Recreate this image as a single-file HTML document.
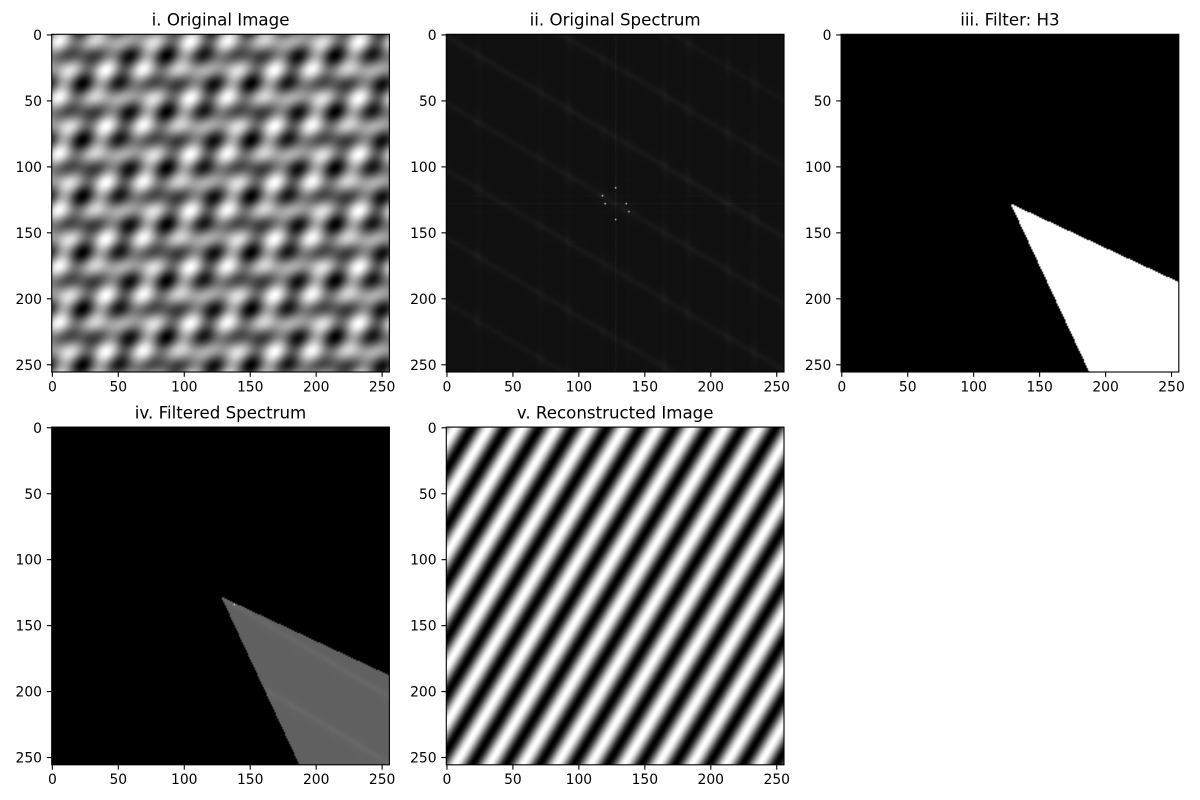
<!DOCTYPE html>
<html lang="en">
<head>
<meta charset="utf-8">
<title>Fourier filtering panels</title>
<style>
  html, body { margin: 0; padding: 0; background: #fff; }
  #figure { position: relative; width: 1200px; height: 800px; overflow: hidden; background: #fff; font-family: "DejaVu Sans", "Liberation Sans", sans-serif; }
  canvas { position: absolute; display: block; }
  svg { position: absolute; left: 0; top: 0; }
</style>
</head>
<body>
<div id="figure">
  <canvas id="c0" width="256" height="256"></canvas>
  <canvas id="c1" width="256" height="256"></canvas>
  <canvas id="c2" width="256" height="256"></canvas>
  <canvas id="c3" width="256" height="256"></canvas>
  <canvas id="c4" width="256" height="256"></canvas>
  <svg id="overlay" width="1200" height="800" xmlns="http://www.w3.org/2000/svg"></svg>
</div>
<script>
// ---- chart data ----
const panelTitles = ["i. Original Image", "ii. Original Spectrum", "iii. Filter: H3", "iv. Filtered Spectrum", "v. Reconstructed Image"];
const panelNames = ["original-image", "original-spectrum", "filter-h3", "filtered-spectrum", "reconstructed-image"];
const tickValues = [0, 50, 100, 150, 200, 250];

// Gratings: spatial frequency (cycles per 256 px), shift, amplitude
const gratingU = [8, 0, 10];
const gratingV = [0, 12, 6];
const gratingShift = [57, 62, 62];
const gratingAmp = [1, 1, 1];

// Grating kept by the H3 wedge filter (index into the grating arrays)
const keptGrating = [2];

// Filter wedge in degrees, apex at spectrum centre
const wedgeAngles = [25, 65];

// Spectrum appearance
const spectrumBackground = [16];
const filteredBackground = [96];
const filteredStreakGain = [1.0];
const filteredFaintGain = [0.2];
const streakSlope = [0.594];
const streakOffsets = [-102, -52, 1.5, 52, 102.5, 154, 203];
const streakLevels = [6, 8, 9, 8, 8, 8, 7];
const faintCols = [24, 71, 92, 118, 138, 165, 183, 213, 233];
const faintColLevels = [4, 3, 4, 2, 2, 4, 4, 4, 4];
const faintRows = [110, 122, 134, 157, 168];
const faintRowLevels = [2, 3, 3, 2, 2];
const centreLineLevels = [9, 8];

// ---- geometry ----
const SIZE = 256;
const PANEL = 337.7;
const panelLeft = [51.7, 446.3, 841.1, 51.7, 446.3];
const panelTop = [34.3, 34.3, 34.3, 427.1, 427.1];
const TICK_LEN = 4.86;

function xScale(panel, v) { return panelLeft[panel] + (v + 0.5) * PANEL / SIZE; }
function yScale(panel, v) { return panelTop[panel] + (v + 0.5) * PANEL / SIZE; }

// ---- image models ----
function gratingValue(i, x, y) {
  return gratingAmp[i] * Math.cos(2 * Math.PI * (gratingU[i] * x + gratingV[i] * y - gratingShift[i]) / SIZE);
}
function originalValue(x, y) {
  let s = 0;
  for (let i = 0; i < gratingU.length; i++) s += gratingValue(i, x, y);
  return s;
}
function reconstructedValue(x, y) {
  let s = 0;
  for (const i of keptGrating) s += gratingValue(i, x, y);
  return s;
}
function isPeak(x, y) {
  const dx = x - SIZE / 2, dy = y - SIZE / 2;
  for (let i = 0; i < gratingU.length; i++) {
    if ((dx === gratingU[i] && dy === gratingV[i]) || (dx === -gratingU[i] && dy === -gratingV[i])) return true;
  }
  return false;
}
function inWedge(x, y) {
  const dx = x - SIZE / 2, dy = y - SIZE / 2;
  if (dx <= 0 || dy <= 0) return false;
  const a = Math.atan2(dy, dx) * 180 / Math.PI;
  return a >= wedgeAngles[0] && a <= wedgeAngles[1];
}
function streakExcess(x, y) {
  let e = 0;
  for (let i = 0; i < streakOffsets.length; i++) {
    const d = y - (streakSlope[0] * x + streakOffsets[i]);
    e += streakLevels[i] * (0.7 * Math.exp(-(d * d) / 6) + 0.3 * Math.exp(-(d * d) / 40));
  }
  return e;
}
function faintExcess(x, y) {
  let e = 0;
  let crossing = 0;
  for (let i = 0; i < streakOffsets.length; i++) {
    const d = y - (streakSlope[0] * x + streakOffsets[i]);
    crossing = Math.max(crossing, Math.exp(-(d * d) / 60));
  }
  for (let i = 0; i < faintCols.length; i++) {
    const d = x - faintCols[i];
    e += faintColLevels[i] * Math.exp(-(d * d) / 8) * (0.6 + 0.8 * crossing);
  }
  for (let i = 0; i < faintRows.length; i++) {
    if (y === faintRows[i]) e += faintRowLevels[i];
  }
  if (x === SIZE / 2) e += centreLineLevels[0];
  if (y === SIZE / 2) e += centreLineLevels[1];
  return e;
}

// ---- raster drawing ----
function paint(panel, fn) {
  const cv = document.getElementById("c" + panel);
  cv.style.left = panelLeft[panel] + "px";
  cv.style.top = panelTop[panel] + "px";
  cv.style.width = PANEL + "px";
  cv.style.height = PANEL + "px";
  const ctx = cv.getContext("2d");
  const img = ctx.createImageData(SIZE, SIZE);
  for (let y = 0; y < SIZE; y++) {
    for (let x = 0; x < SIZE; x++) {
      const v = Math.max(0, Math.min(255, Math.round(fn(x, y))));
      const o = (y * SIZE + x) * 4;
      img.data[o] = v; img.data[o + 1] = v; img.data[o + 2] = v; img.data[o + 3] = 255;
    }
  }
  ctx.putImageData(img, 0, 0);
}
function normaliser(fn) {
  let lo = Infinity, hi = -Infinity;
  for (let y = 0; y < SIZE; y++) for (let x = 0; x < SIZE; x++) {
    const v = fn(x, y);
    if (v < lo) lo = v;
    if (v > hi) hi = v;
  }
  return function (x, y) { return 255 * (fn(x, y) - lo) / (hi - lo); };
}

paint(0, normaliser(originalValue));
paint(1, function (x, y) {
  return isPeak(x, y) ? 255 : spectrumBackground[0] + streakExcess(x, y) + faintExcess(x, y);
});
paint(2, function (x, y) { return inWedge(x, y) ? 255 : 0; });
paint(3, function (x, y) {
  if (!inWedge(x, y)) return 0;
  if (isPeak(x, y)) return 255;
  return filteredBackground[0] + filteredStreakGain[0] * streakExcess(x, y) + filteredFaintGain[0] * faintExcess(x, y);
});
paint(4, normaliser(reconstructedValue));

// ---- axes ----
const SVG_NS = "http://www.w3.org/2000/svg";
const overlay = document.getElementById("overlay");
function svgEl(tag, attrs) {
  const el = document.createElementNS(SVG_NS, tag);
  for (const k in attrs) el.setAttribute(k, attrs[k]);
  overlay.appendChild(el);
  return el;
}
panelTitles.forEach(function (title, p) {
  const left = panelLeft[p], top = panelTop[p], bottom = top + PANEL, cx = left + PANEL / 2;

  const frame = svgEl("rect", { x: left, y: top, width: PANEL, height: PANEL, fill: "none", stroke: "#000", "stroke-width": 1.11 });
  
  

  const t = svgEl("text", { x: cx, y: top - 8.6, "text-anchor": "middle", "font-size": 16.67, fill: "#000" });
  t.textContent = title;
  
  

  tickValues.forEach(function (v) {
    const xp = xScale(p, v), yp = yScale(p, v);

    const xt = svgEl("line", { x1: xp, x2: xp, y1: bottom, y2: bottom + TICK_LEN, stroke: "#000", "stroke-width": 1.11 });
    
    

    const xl = svgEl("text", { x: xp, y: bottom + 19.4, "text-anchor": "middle", "font-size": 13.89, fill: "#000" });
    xl.textContent = String(v);
    
    

    const yt = svgEl("line", { x1: left - TICK_LEN, x2: left, y1: yp, y2: yp, stroke: "#000", "stroke-width": 1.11 });
    
    

    const yl = svgEl("text", { x: left - 9.7, y: yp + 5.05, "text-anchor": "end", "font-size": 13.89, fill: "#000" });
    yl.textContent = String(v);
    
    
  });
});
</script>
</body>
</html>
